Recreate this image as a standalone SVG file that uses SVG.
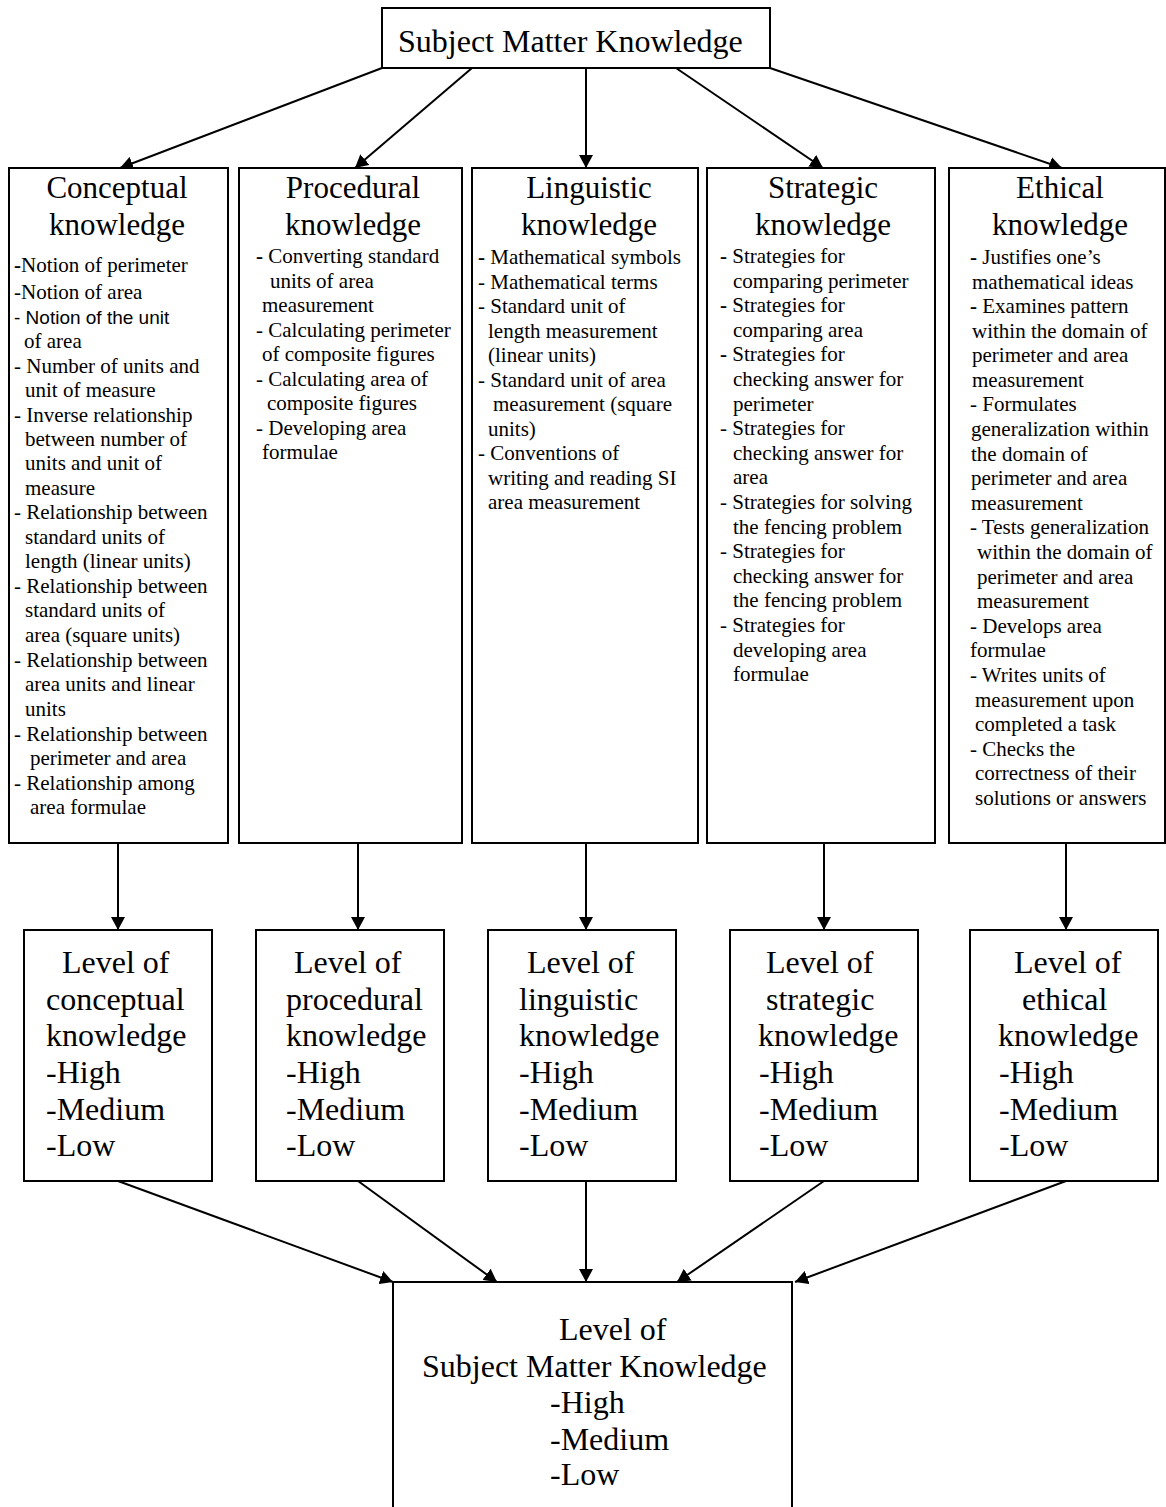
<svg xmlns="http://www.w3.org/2000/svg" width="1166" height="1507" viewBox="0 0 1166 1507">
<style>
.box{fill:#fff;stroke:#000;stroke-width:2}
text{font-family:"Liberation Serif","Times New Roman",serif;fill:#000}
.hd{font-size:32px}
.ti{font-size:31px;text-anchor:middle}
.it{font-size:21px}
.lv{font-size:32px}
.sans{font-family:"Liberation Sans",Arial,sans-serif;font-size:19px}
.b{font-weight:bold}
.conn line{stroke:#000;stroke-width:2;marker-end:url(#ah)}
</style>
<defs>
<marker id="ah" markerUnits="userSpaceOnUse" markerWidth="14" markerHeight="14" refX="13" refY="7" orient="auto">
<path d="M0,0 L13,7 L0,14 z" fill="#000"/>
</marker>
</defs>
<rect width="1166" height="1507" fill="#fff"/>

<g id="connectors" class="conn">
<line x1="382" y1="68" x2="120" y2="168"/>
<line x1="472" y1="68" x2="355" y2="168"/>
<line x1="586" y1="68" x2="586" y2="168"/>
<line x1="676" y1="68" x2="823" y2="168"/>
<line x1="770" y1="68" x2="1062" y2="168"/>
<line x1="118" y1="843" x2="118" y2="930"/>
<line x1="358" y1="843" x2="358" y2="930"/>
<line x1="586" y1="843" x2="586" y2="930"/>
<line x1="824" y1="843" x2="824" y2="930"/>
<line x1="1066" y1="843" x2="1066" y2="930"/>
<line x1="118" y1="1181" x2="393" y2="1282"/>
<line x1="358" y1="1181" x2="497" y2="1282"/>
<line x1="586" y1="1181" x2="586" y2="1282"/>
<line x1="824" y1="1181" x2="677" y2="1282"/>
<line x1="1066" y1="1181" x2="795" y2="1282"/>
</g>

<g id="smk">
<rect class="box" x="382" y="8" width="388" height="60"/>
<text class="hd" x="398" y="52">Subject Matter Knowledge</text>
</g>

<g id="conceptual">
<rect class="box" x="9" y="168" width="219" height="675"/>
<text class="ti" x="117" y="198">Conceptual</text>
<text class="ti" x="117" y="235">knowledge</text>
<text class="it" x="14" y="272"><tspan class="b">-</tspan>Notion of perimeter</text>
<text class="it" x="14" y="299">-Notion of area</text>
<text class="sans" x="14" y="324">- Notion of the unit</text>
<text class="it" x="24" y="348">of area</text>
<text class="it" x="14" y="373">- Number of units and</text>
<text class="it" x="25" y="397">unit of measure</text>
<text class="it" x="14" y="422">- Inverse relationship</text>
<text class="it" x="25" y="446">between number of</text>
<text class="it" x="25" y="470">units and unit of</text>
<text class="it" x="25" y="495">measure</text>
<text class="it" x="14" y="519">- Relationship between</text>
<text class="it" x="25" y="544">standard units of</text>
<text class="it" x="25" y="568">length (linear units)</text>
<text class="it" x="14" y="593">- Relationship between</text>
<text class="it" x="25" y="617">standard units of</text>
<text class="it" x="25" y="642">area (square units)</text>
<text class="it" x="14" y="667">- Relationship between</text>
<text class="it" x="25" y="691">area units and linear</text>
<text class="it" x="25" y="716">units</text>
<text class="it" x="14" y="741">- Relationship between</text>
<text class="it" x="30" y="765">perimeter and area</text>
<text class="it" x="14" y="790">- Relationship among</text>
<text class="it" x="30" y="814">area formulae</text>
</g>

<g id="procedural">
<rect class="box" x="239" y="168" width="223" height="675"/>
<text class="ti" x="353" y="198">Procedural</text>
<text class="ti" x="353" y="235">knowledge</text>
<text class="it" x="256" y="263"><tspan class="b">-</tspan> Converting standard</text>
<text class="it" x="270" y="287.5">units of area</text>
<text class="it" x="262" y="312">measurement</text>
<text class="it" x="256" y="336.5">- Calculating perimeter</text>
<text class="it" x="262" y="361">of composite figures</text>
<text class="it" x="256" y="385.5">- Calculating area of</text>
<text class="it" x="267" y="410">composite figures</text>
<text class="it" x="256" y="434.5">- Developing area</text>
<text class="it" x="262" y="459">formulae</text>
</g>

<g id="linguistic">
<rect class="box" x="472" y="168" width="226" height="675"/>
<text class="ti" x="589" y="198">Linguistic</text>
<text class="ti" x="589" y="235">knowledge</text>
<text class="it" x="478" y="264"><tspan class="b">-</tspan> Mathematical symbols</text>
<text class="it" x="478" y="288.5">- Mathematical terms</text>
<text class="it" x="478" y="313">- Standard unit of</text>
<text class="it" x="488" y="337.5">length measurement</text>
<text class="it" x="488" y="362">(linear units)</text>
<text class="it" x="478" y="386.5">- Standard unit of area</text>
<text class="it" x="493" y="411">measurement (square</text>
<text class="it" x="488" y="435.5">units)</text>
<text class="it" x="478" y="460">- Conventions of</text>
<text class="it" x="488" y="484.5">writing and reading SI</text>
<text class="it" x="488" y="509">area measurement</text>
</g>

<g id="strategic">
<rect class="box" x="707" y="168" width="228" height="675"/>
<text class="ti" x="823" y="198">Strategic</text>
<text class="ti" x="823" y="235">knowledge</text>
<text class="it" x="720" y="263"><tspan class="b">-</tspan> Strategies for</text>
<text class="it" x="733" y="287.6">comparing perimeter</text>
<text class="it" x="720" y="312.2"><tspan class="b">-</tspan> Strategies for</text>
<text class="it" x="733" y="336.8">comparing area</text>
<text class="it" x="720" y="361.4"><tspan class="b">-</tspan> Strategies for</text>
<text class="it" x="733" y="386">checking answer for</text>
<text class="it" x="733" y="410.6">perimeter</text>
<text class="it" x="720" y="435.2">- Strategies for</text>
<text class="it" x="733" y="459.8">checking answer for</text>
<text class="it" x="733" y="484.4">area</text>
<text class="it" x="720" y="509">- Strategies for solving</text>
<text class="it" x="733" y="533.6">the fencing problem</text>
<text class="it" x="720" y="558.2">- Strategies for</text>
<text class="it" x="733" y="582.8">checking answer for</text>
<text class="it" x="733" y="607.4">the fencing problem</text>
<text class="it" x="720" y="632">- Strategies for</text>
<text class="it" x="733" y="656.6">developing area</text>
<text class="it" x="733" y="681.2">formulae</text>
</g>

<g id="ethical">
<rect class="box" x="949" y="168" width="216" height="675"/>
<text class="ti" x="1060" y="198">Ethical</text>
<text class="ti" x="1060" y="235">knowledge</text>
<text class="it" x="970" y="264"><tspan class="b">-</tspan> Justifies one’s</text>
<text class="it" x="972" y="288.5">mathematical ideas</text>
<text class="it" x="970" y="313"><tspan class="b">-</tspan> Examines pattern</text>
<text class="it" x="972" y="337.6">within the domain of</text>
<text class="it" x="972" y="362.2">perimeter and area</text>
<text class="it" x="972" y="386.8">measurement</text>
<text class="it" x="970" y="411.4">- Formulates</text>
<text class="it" x="971" y="436">generalization within</text>
<text class="it" x="971" y="460.6">the domain of</text>
<text class="it" x="971" y="485.2">perimeter and area</text>
<text class="it" x="971" y="509.8">measurement</text>
<text class="it" x="970" y="534.4">- Tests generalization</text>
<text class="it" x="977" y="559">within the domain of</text>
<text class="it" x="977" y="583.6">perimeter and area</text>
<text class="it" x="977" y="608.2">measurement</text>
<text class="it" x="970" y="632.8">- Develops area</text>
<text class="it" x="970" y="657.4">formulae</text>
<text class="it" x="970" y="682">- Writes units of</text>
<text class="it" x="975" y="706.6">measurement upon</text>
<text class="it" x="975" y="731.2">completed a task</text>
<text class="it" x="970" y="755.8">- Checks the</text>
<text class="it" x="975" y="780.4">correctness of their</text>
<text class="it" x="975" y="805">solutions or answers</text>
</g>

<g id="level-conceptual">
<rect class="box" x="24" y="930" width="188" height="251"/>
<text class="lv" x="62" y="973">Level of</text>
<text class="lv" x="46" y="1010">conceptual</text>
<text class="lv" x="46" y="1046">knowledge</text>
<text class="lv" x="46" y="1083">-High</text>
<text class="lv" x="46" y="1120">-Medium</text>
<text class="lv" x="46" y="1156">-Low</text>
</g>

<g id="level-procedural">
<rect class="box" x="256" y="930" width="188" height="251"/>
<text class="lv" x="294" y="973">Level of</text>
<text class="lv" x="286" y="1010">procedural</text>
<text class="lv" x="286" y="1046">knowledge</text>
<text class="lv" x="286" y="1083">-High</text>
<text class="lv" x="286" y="1120">-Medium</text>
<text class="lv" x="286" y="1156">-Low</text>
</g>

<g id="level-linguistic">
<rect class="box" x="488" y="930" width="188" height="251"/>
<text class="lv" x="527" y="973">Level of</text>
<text class="lv" x="519" y="1010">linguistic</text>
<text class="lv" x="519" y="1046">knowledge</text>
<text class="lv" x="519" y="1083">-High</text>
<text class="lv" x="519" y="1120">-Medium</text>
<text class="lv" x="519" y="1156">-Low</text>
</g>

<g id="level-strategic">
<rect class="box" x="730" y="930" width="188" height="251"/>
<text class="lv" x="766" y="973">Level of</text>
<text class="lv" x="766" y="1010">strategic</text>
<text class="lv" x="758" y="1046">knowledge</text>
<text class="lv" x="759" y="1083">-High</text>
<text class="lv" x="759" y="1120">-Medium</text>
<text class="lv" x="759" y="1156">-Low</text>
</g>

<g id="level-ethical">
<rect class="box" x="970" y="930" width="188" height="251"/>
<text class="lv" x="1014" y="973">Level of</text>
<text class="lv" x="1022" y="1010">ethical</text>
<text class="lv" x="998" y="1046">knowledge</text>
<text class="lv" x="999" y="1083">-High</text>
<text class="lv" x="999" y="1120">-Medium</text>
<text class="lv" x="999" y="1156">-Low</text>
</g>

<g id="level-smk">
<rect class="box" x="393" y="1282" width="399" height="240"/>
<text class="lv" x="559" y="1340">Level of</text>
<text class="lv" x="422" y="1377">Subject Matter Knowledge</text>
<text class="lv" x="550" y="1413">-High</text>
<text class="lv" x="550" y="1450">-Medium</text>
<text class="lv" x="550" y="1485">-Low</text>
</g>
</svg>
